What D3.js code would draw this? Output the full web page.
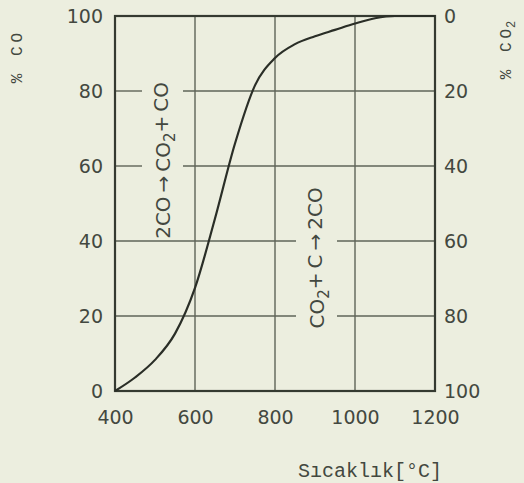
<!DOCTYPE html>
<html>
<head>
<meta charset="utf-8">
<script src="https://cdn.jsdelivr.net/npm/d3@7"></script>
<style>
  body { margin: 0; background: #eceedf; }
  svg { display: block; }
</style>
</head>
<body>
<div id="chart"></div>
<script>
// Boudouard equilibrium: % CO vs temperature
const temps = [400, 450, 500, 550, 600, 650, 700, 750, 800, 850, 900, 950, 1000, 1050, 1100, 1150, 1200];
const coPercent = [0, 3.6, 8.3, 15.3, 27.5, 46, 66, 81.5, 88.8, 92.5, 94.6, 96.3, 98, 99.4, 100, 100, 100];

const xTicks = [400, 600, 800, 1000, 1200];
const coTicks = [0, 20, 40, 60, 80, 100];
const co2Ticks = [0, 20, 40, 60, 80, 100];

// reaction labels: text pieces [main, subscript, rest], anchored at (temp, %CO)
const reactions = [
  { parts: ["2CO\u2009\u2192\u2009CO", "2", "+\u2009CO"], t: 520, co: 61.5 },
  { parts: ["CO", "2", "+\u2009C\u2009\u2192\u20092CO"], t: 905, co: 35.5 }
];

const W = 524, H = 483;
const margin = { top: 16, right: 89, bottom: 92, left: 115 };
const width = W - margin.left - margin.right;
const height = H - margin.top - margin.bottom;

const ink = "#353a31";
const textInk = "#434840";
const sans = "'DejaVu Sans', sans-serif";
const mono = "'Liberation Mono', monospace";

const svg = d3.select("#chart")
    .append("svg")
    .attr("width", W)
    .attr("height", H)
    .style("background", "#eceedf");

const g = svg.append("g")
    .attr("transform", "translate(" + margin.left + "," + margin.top + ")");

const x = d3.scaleLinear().domain([400, 1200]).range([0, width]);
const y = d3.scaleLinear().domain([0, 100]).range([height, 0]);
const y2 = d3.scaleLinear().domain([0, 100]).range([0, height]);

// reaction labels first, so the grid can be broken around them
const labelG = g.append("g");
const labelBoxes = [];
reactions.forEach(r => {
    const txt = labelG.append("text")
        .attr("transform", "translate(" + x(r.t) + "," + y(r.co) + ") rotate(-90)")
        .attr("text-anchor", "middle")
        .attr("dy", "0.35em")
        .attr("font-family", sans)
        .attr("font-size", 20)
        .attr("fill", textInk);
    txt.append("tspan").text(r.parts[0]);
    txt.append("tspan").attr("dy", "0.35em").attr("font-size", 15).text(r.parts[1]);
    txt.append("tspan").attr("dy", "-0.35em").text(r.parts[2]);
    const b = txt.node().getBBox();
    // rotated -90: text length runs along y, height along x
    labelBoxes.push({
        x0: x(r.t) - b.height / 2 - 6, x1: x(r.t) + b.height / 2 + 5,
        y0: y(r.co) - b.width / 2, y1: y(r.co) + b.width / 2
    });
});

// vertical grid lines
g.append("g").selectAll("line")
    .data(xTicks.slice(1, -1))
    .join("line")
    .attr("x1", d => x(d)).attr("x2", d => x(d))
    .attr("y1", 0).attr("y2", height)
    .attr("stroke", "#5f6458")
    .attr("stroke-width", 1.4);

// horizontal grid lines, broken where a label crosses
const hGrid = g.append("g");
coTicks.slice(1, -1).forEach(v => {
    const yy = y(v);
    let segs = [[0, width]];
    labelBoxes.forEach(bx => {
        if (yy >= bx.y0 && yy <= bx.y1) {
            segs = segs.flatMap(([a, b]) => {
                if (bx.x1 <= a || bx.x0 >= b) return [[a, b]];
                const out = [];
                if (bx.x0 > a) out.push([a, bx.x0]);
                if (bx.x1 < b) out.push([bx.x1, b]);
                return out;
            });
        }
    });
    segs.forEach(([a, b]) => {
        hGrid.append("line")
            .attr("x1", a).attr("x2", b)
            .attr("y1", yy).attr("y2", yy)
            .attr("stroke", "#5f6458")
            .attr("stroke-width", 1.4);
    });
});

// frame
g.append("rect")
    .attr("width", width)
    .attr("height", height)
    .attr("fill", "none")
    .attr("stroke", ink)
    .attr("stroke-width", 2.2);

// equilibrium curve
const line = d3.line()
    .x((d, i) => x(temps[i]))
    .y(d => y(d))
    .curve(d3.curveMonotoneX);

g.append("path")
    .datum(coPercent)
    .attr("fill", "none")
    .attr("stroke", "#2a2e27")
    .attr("stroke-width", 2.2)
    .attr("d", line);

const fmt = d3.format("d");

// left axis (% CO)
const leftAxis = g.append("g")
    .call(d3.axisLeft(y).tickValues(coTicks).tickFormat(fmt).tickSize(0).tickPadding(12));
leftAxis.select(".domain").remove();
leftAxis.selectAll("text")
    .attr("font-family", sans)
    .attr("font-size", 19)
    .attr("fill", textInk);

// right axis (% CO2)
const rightAxis = g.append("g")
    .attr("transform", "translate(" + width + ",0)")
    .call(d3.axisRight(y2).tickValues(co2Ticks).tickFormat(fmt).tickSize(0).tickPadding(9));
rightAxis.select(".domain").remove();
rightAxis.selectAll("text")
    .attr("font-family", sans)
    .attr("font-size", 19)
    .attr("fill", textInk);

// bottom axis (temperature)
const bottomAxis = g.append("g")
    .attr("transform", "translate(0," + height + ")")
    .call(d3.axisBottom(x).tickValues(xTicks).tickFormat(fmt).tickSize(0).tickPadding(20));
bottomAxis.select(".domain").remove();
bottomAxis.selectAll("text")
    .attr("font-family", sans)
    .attr("font-size", 19)
    .attr("fill", textInk);

// axis titles
svg.append("text")
    .attr("transform", "translate(" + 16 + "," + 56 + ") rotate(-90)")
    .attr("text-anchor", "middle")
    .attr("dy", "0.35em")
    .attr("font-family", mono)
    .attr("font-size", 16)
    .attr("letter-spacing", 4)
    .attr("fill", textInk)
    .text("% CO");

const co2Title = svg.append("text")
    .attr("transform", "translate(" + 505 + "," + 50 + ") rotate(-90)")
    .attr("text-anchor", "middle")
    .attr("dy", "0.35em")
    .attr("font-family", mono)
    .attr("font-size", 16)
    .attr("letter-spacing", 4)
    .attr("fill", textInk);
co2Title.append("tspan").text("% CO");
co2Title.append("tspan").attr("dy", "0.4em").attr("font-size", 12).attr("letter-spacing", 0).attr("dx", -3).text("2");

svg.append("text")
    .attr("x", 370)
    .attr("y", 477)
    .attr("text-anchor", "middle")
    .attr("font-family", mono)
    .attr("font-size", 20)
    .attr("fill", textInk)
    .text("S\u0131cakl\u0131k[\u00b0C]");
</script>
</body>
</html>
